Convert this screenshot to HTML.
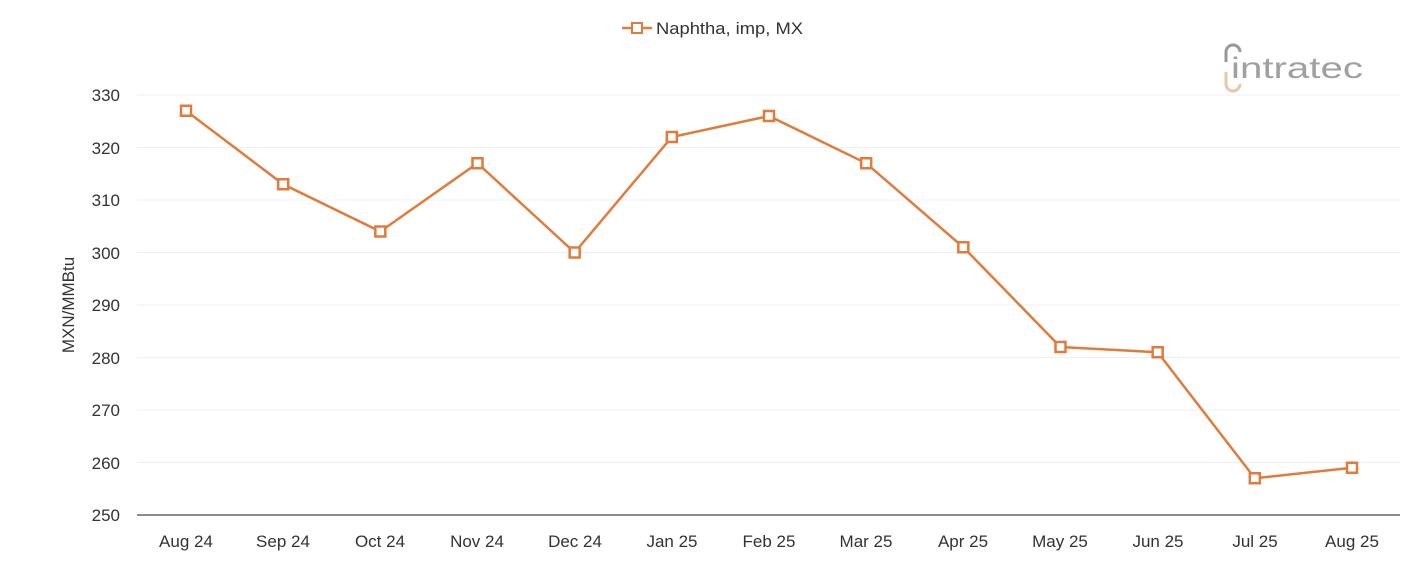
<!DOCTYPE html>
<html><head><style>body{margin:0;background:#fff}svg{display:block}text{font-family:"Liberation Sans",sans-serif}</style></head><body>
<svg width="1401" height="561" xmlns="http://www.w3.org/2000/svg">
<g stroke="#f0f0f0" stroke-width="1">
<line x1="137" x2="1400" y1="95" y2="95"/><line x1="137" x2="1400" y1="147.5" y2="147.5"/><line x1="137" x2="1400" y1="200" y2="200"/><line x1="137" x2="1400" y1="252.5" y2="252.5"/><line x1="137" x2="1400" y1="305" y2="305"/><line x1="137" x2="1400" y1="357.5" y2="357.5"/><line x1="137" x2="1400" y1="410" y2="410"/><line x1="137" x2="1400" y1="462.5" y2="462.5"/>
</g>
<line x1="137" x2="1400" y1="515" y2="515" stroke="#666" stroke-width="1.5"/>
<g font-size="17" fill="#333" text-anchor="end">
<text x="120" y="101">330</text><text x="120" y="154">320</text><text x="120" y="206">310</text><text x="120" y="259">300</text><text x="120" y="311">290</text><text x="120" y="364">280</text><text x="120" y="416">270</text><text x="120" y="469">260</text><text x="120" y="521">250</text>
</g>
<text transform="translate(74,305) rotate(-90)" font-size="17" fill="#333" text-anchor="middle">MXN/MMBtu</text>
<g font-size="17" fill="#333" text-anchor="middle">
<text x="186" y="547">Aug 24</text><text x="283" y="547">Sep 24</text><text x="380" y="547">Oct 24</text><text x="477" y="547">Nov 24</text><text x="575" y="547">Dec 24</text><text x="672" y="547">Jan 25</text><text x="769" y="547">Feb 25</text><text x="866" y="547">Mar 25</text><text x="963" y="547">Apr 25</text><text x="1060" y="547">May 25</text><text x="1158" y="547">Jun 25</text><text x="1255" y="547">Jul 25</text><text x="1352" y="547">Aug 25</text>
</g>
<polyline fill="none" stroke="#e07b3c" stroke-width="2.5" points="186,110.75 283.17,184.25 380.33,231.5 477.5,163.25 574.67,252.5 671.83,137 769,116 866.17,163.25 963.33,247.25 1060.5,347 1157.67,352.25 1254.83,478.25 1352,467.75"/>
<g fill="#fff" stroke="#e07b3c" stroke-width="2.5">
<rect x="181" y="105.75" width="10" height="10"/><rect x="278.17" y="179.25" width="10" height="10"/><rect x="375.33" y="226.5" width="10" height="10"/><rect x="472.5" y="158.25" width="10" height="10"/><rect x="569.67" y="247.5" width="10" height="10"/><rect x="666.83" y="132" width="10" height="10"/><rect x="764" y="111" width="10" height="10"/><rect x="861.17" y="158.25" width="10" height="10"/><rect x="958.33" y="242.25" width="10" height="10"/><rect x="1055.5" y="342" width="10" height="10"/><rect x="1152.67" y="347.25" width="10" height="10"/><rect x="1249.83" y="473.25" width="10" height="10"/><rect x="1347" y="462.75" width="10" height="10"/>
</g>
<line x1="622" x2="652" y1="28" y2="28" stroke="#e07b3c" stroke-width="2.5"/>
<rect x="632" y="23" width="10" height="10" fill="#fff" stroke="#e07b3c" stroke-width="2"/>
<text x="656" y="34" font-size="17" fill="#333" textLength="147" lengthAdjust="spacingAndGlyphs">Naphtha, imp, MX</text>
<g>
<path d="M1226,62 v-10 a7,7 0 0 1 14,0" fill="none" stroke="#999" stroke-width="3"/>
<path d="M1226,72 v12 a7,7 0 0 0 14,0" fill="none" stroke="#e8c7a8" stroke-width="3"/>
<text x="1231" y="78" font-size="30" fill="#a0a0a0" textLength="132" lengthAdjust="spacingAndGlyphs">intratec</text>
</g>
</svg>
</body></html>
